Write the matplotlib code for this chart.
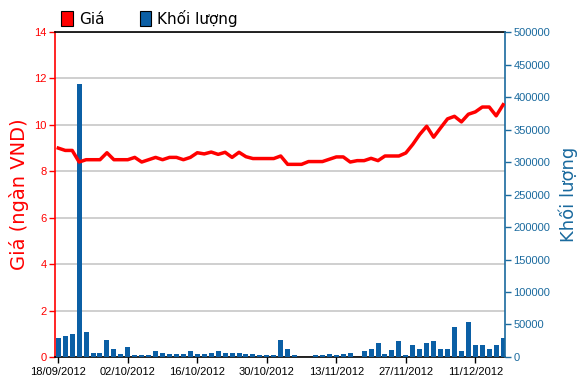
import matplotlib
matplotlib.use("Agg")
import matplotlib.pyplot as plt
from matplotlib.patches import Patch

# trading-day data, 18/09/2012 .. 17/12/2012
price = [9.0, 8.9, 8.9, 8.4, 8.5, 8.5, 8.5, 8.8, 8.5, 8.5,
         8.5, 8.6, 8.4, 8.5, 8.6, 8.5, 8.6, 8.6, 8.5, 8.6,
         8.8, 8.75, 8.83, 8.73, 8.82, 8.6, 8.82, 8.63, 8.55, 8.55,
         8.55, 8.55, 8.66, 8.3, 8.3, 8.3, 8.42, 8.42, 8.42, 8.52,
         8.62, 8.62, 8.4, 8.46, 8.46, 8.56, 8.46, 8.66, 8.66, 8.66,
         8.79, 9.16, 9.59, 9.94, 9.47, 9.87, 10.26, 10.37, 10.13, 10.46,
         10.56, 10.77, 10.77, 10.39, 10.87]
volume = [28600, 32100, 34700, 420000, 38300, 6600, 6600, 26500, 12200, 4600,
          14800, 2500, 2500, 2500, 9200, 6600, 4600, 4600, 4600, 8700,
          4600, 4600, 6600, 8700, 6600, 6600, 6600, 4600, 4600, 2500,
          2500, 2500, 26500, 12200, 2500, 0, 0, 2500, 2500, 4600,
          2500, 4600, 6600, 0, 8700, 12200, 20900, 4100, 10200, 24500,
          2500, 18400, 12200, 20900, 24500, 12200, 12200, 45900, 8700, 54600,
          18400, 18400, 12200, 18400, 28600]
date_labels = ['18/09/2012', '02/10/2012', '16/10/2012', '30/10/2012',
               '13/11/2012', '27/11/2012', '11/12/2012']

RED = '#ff0000'
BLUE = '#0b5fa5'
AXBLUE = '#1a6a9e'

plt.rcParams['font.family'] = ['Liberation Sans', 'DejaVu Sans']

fig = plt.figure(figsize=(5.86, 3.91), dpi=100)
ax = fig.add_axes([0.0939, 0.087, 0.768, 0.831])   # price axis (grid, left)
axv = ax.twinx()                                     # volume bars (right)
axl = ax.twinx()                                     # price line on top

x = list(range(len(price)))
xlim = (-0.47, len(price) - 0.72)

# price axis
ax.set_xlim(*xlim)
ax.set_ylim(0, 14)
ax.set_yticks(range(0, 15, 2))
ax.grid(axis='y', color='#cccccc', linewidth=1.3)
ax.set_axisbelow(True)
ax.tick_params(axis='y', colors=RED, labelsize=8, length=4, width=1, pad=2)
ax.tick_params(axis='x', colors='black', labelsize=8, length=4, width=1, pad=3)
ax.set_xticks(x[::10])
ax.set_xticklabels(date_labels)
ax.spines['left'].set_color(RED)
ax.spines['left'].set_linewidth(1.2)
ax.spines['right'].set_visible(False)
ax.spines['top'].set_linewidth(1.2)
ax.spines['bottom'].set_linewidth(1.2)
ax.set_ylabel('Giá (ngàn VND)', color=RED, fontsize=14, family='DejaVu Sans', labelpad=4)

# volume axis
axv.bar(x, volume, width=0.72, color=BLUE, zorder=2)
axv.set_xlim(*xlim)
axv.set_ylim(0, 500000)
axv.set_yticks(range(0, 500001, 50000))
axv.tick_params(axis='y', colors=AXBLUE, labelsize=8, length=4, width=1, pad=2)
axv.spines['right'].set_color(AXBLUE)
axv.spines['right'].set_linewidth(1.2)
for s in ['left', 'top', 'bottom']:
    axv.spines[s].set_visible(False)
axv.set_ylabel('Khối lượng', color=AXBLUE, fontsize=13, family='DejaVu Sans', labelpad=6)

# price line
axl.plot(x, price, color=RED, linewidth=2.5, solid_joinstyle='round', zorder=3)
axl.set_xlim(*xlim)
axl.set_ylim(0, 14)
axl.axis('off')

# legend
handles = [Patch(facecolor=RED, edgecolor='black', linewidth=0.8, label='Giá'),
           Patch(facecolor=BLUE, edgecolor='black', linewidth=0.8, label='Khối lượng')]
fig.legend(handles=handles, loc='upper left', bbox_to_anchor=(0.088, 1.0), ncol=2,
           frameon=False, handlelength=0.75, handleheight=1.1,
           handletextpad=0.4, columnspacing=2.3, borderaxespad=0.25,
           prop={'family': 'DejaVu Sans', 'size': 11})

fig.savefig('out.png', dpi=100)
